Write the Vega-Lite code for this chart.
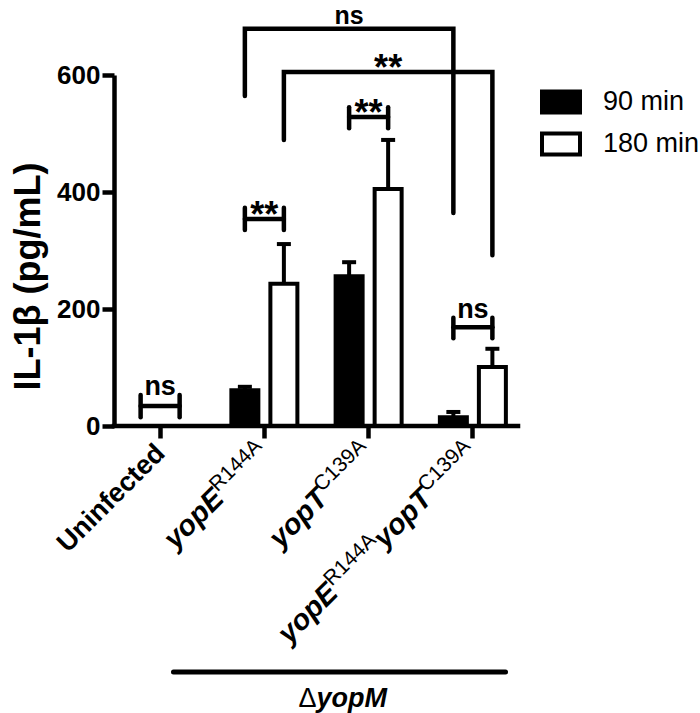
{
  "$schema": "https://vega.github.io/schema/vega-lite/v6.json",
  "autosize": {"type": "none"},
  "width": 417,
  "height": 351,
  "padding": {"left": 108, "top": 75, "right": 175, "bottom": 287},
  "config": {"view": {"stroke": null}, "font": "Liberation Sans"},
  "datasets": {
    "bars": [
      {"strain": "Uninfected", "time": "90 min", "value": 0, "upper": 0},
      {"strain": "Uninfected", "time": "180 min", "value": 0, "upper": 0},
      {"strain": "yopE R144A", "time": "90 min", "value": 61, "upper": 67},
      {"strain": "yopE R144A", "time": "180 min", "value": 243, "upper": 311},
      {"strain": "yopT C139A", "time": "90 min", "value": 256, "upper": 280},
      {"strain": "yopT C139A", "time": "180 min", "value": 405, "upper": 489},
      {"strain": "yopE R144A yopT C139A", "time": "90 min", "value": 15, "upper": 24},
      {"strain": "yopE R144A yopT C139A", "time": "180 min", "value": 101, "upper": 132}
    ],
    "brackets": [
      {"id": "big_ns", "ord": 1, "strain": "yopE R144A", "time": "90 min", "value": 564},
      {"id": "big_ns", "ord": 2, "strain": "yopE R144A", "time": "90 min", "value": 679},
      {"id": "big_ns", "ord": 3, "strain": "yopE R144A yopT C139A", "time": "90 min", "value": 679},
      {"id": "big_ns", "ord": 4, "strain": "yopE R144A yopT C139A", "time": "90 min", "value": 364},
      {"id": "big_ss", "ord": 1, "strain": "yopE R144A", "time": "180 min", "value": 489},
      {"id": "big_ss", "ord": 2, "strain": "yopE R144A", "time": "180 min", "value": 605},
      {"id": "big_ss", "ord": 3, "strain": "yopE R144A yopT C139A", "time": "180 min", "value": 605},
      {"id": "big_ss", "ord": 4, "strain": "yopE R144A yopT C139A", "time": "180 min", "value": 292},
      {"id": "u_h", "ord": 1, "strain": "Uninfected", "time": "90 min", "value": 34},
      {"id": "u_h", "ord": 2, "strain": "Uninfected", "time": "180 min", "value": 34},
      {"id": "u_l", "ord": 1, "strain": "Uninfected", "time": "90 min", "value": 15},
      {"id": "u_l", "ord": 2, "strain": "Uninfected", "time": "90 min", "value": 53},
      {"id": "u_r", "ord": 1, "strain": "Uninfected", "time": "180 min", "value": 15},
      {"id": "u_r", "ord": 2, "strain": "Uninfected", "time": "180 min", "value": 53},
      {"id": "e_h", "ord": 1, "strain": "yopE R144A", "time": "90 min", "value": 354},
      {"id": "e_h", "ord": 2, "strain": "yopE R144A", "time": "180 min", "value": 354},
      {"id": "e_l", "ord": 1, "strain": "yopE R144A", "time": "90 min", "value": 335},
      {"id": "e_l", "ord": 2, "strain": "yopE R144A", "time": "90 min", "value": 373},
      {"id": "e_r", "ord": 1, "strain": "yopE R144A", "time": "180 min", "value": 335},
      {"id": "e_r", "ord": 2, "strain": "yopE R144A", "time": "180 min", "value": 373},
      {"id": "t_h", "ord": 1, "strain": "yopT C139A", "time": "90 min", "value": 528},
      {"id": "t_h", "ord": 2, "strain": "yopT C139A", "time": "180 min", "value": 528},
      {"id": "t_l", "ord": 1, "strain": "yopT C139A", "time": "90 min", "value": 509},
      {"id": "t_l", "ord": 2, "strain": "yopT C139A", "time": "90 min", "value": 545},
      {"id": "t_r", "ord": 1, "strain": "yopT C139A", "time": "180 min", "value": 509},
      {"id": "t_r", "ord": 2, "strain": "yopT C139A", "time": "180 min", "value": 545},
      {"id": "d_h", "ord": 1, "strain": "yopE R144A yopT C139A", "time": "90 min", "value": 169},
      {"id": "d_h", "ord": 2, "strain": "yopE R144A yopT C139A", "time": "180 min", "value": 169},
      {"id": "d_l", "ord": 1, "strain": "yopE R144A yopT C139A", "time": "90 min", "value": 150},
      {"id": "d_l", "ord": 2, "strain": "yopE R144A yopT C139A", "time": "90 min", "value": 185},
      {"id": "d_r", "ord": 1, "strain": "yopE R144A yopT C139A", "time": "180 min", "value": 150},
      {"id": "d_r", "ord": 2, "strain": "yopE R144A yopT C139A", "time": "180 min", "value": 185}
    ],
    "lines": [
      {"what": "x axis", "strain": "Uninfected", "strain2": "yopE R144A yopT C139A", "value": 0},
      {"what": "group", "strain": "yopE R144A", "strain2": "yopE R144A yopT C139A", "value": -420.5}
    ]
  },
  "layer": [
    {
      "data": {"name": "bars"},
      "mark": {"type": "bar", "stroke": "black", "strokeWidth": 4, "strokeJoin": "miter"},
      "encoding": {
        "x": {"field": "strain", "type": "nominal", "sort": null,
          "scale": {"domain": ["Uninfected", "yopE R144A", "yopT C139A", "yopE R144A yopT C139A"], "paddingInner": 0, "paddingOuter": 0},
          "axis": {"title": null, "labels": false, "domain": false, "ticks": true, "tickSize": 12, "tickWidth": 4.5, "tickColor": "black", "grid": false}},
        "xOffset": {"field": "time", "type": "nominal", "sort": null,
          "scale": {"domain": ["90 min", "180 min"], "paddingInner": 0.308, "paddingOuter": 0.49}},
        "y": {"field": "value", "type": "quantitative",
          "scale": {"domain": [0, 600], "nice": false, "zero": false},
          "axis": {"title": "IL-1β (pg/mL)", "values": [0, 200, 400, 600], "offset": -6, "grid": false,
            "domainWidth": 4.5, "domainColor": "black", "tickWidth": 4.5, "tickSize": 12, "tickColor": "black",
            "labelFont": "Liberation Sans", "labelFontSize": 26, "labelFontWeight": "bold", "labelColor": "black", "labelPadding": 2,
            "titleFont": "Liberation Sans", "titleFontSize": 36, "titleFontWeight": "bold", "titleColor": "black", "titlePadding": 9, "titleY": 201}},
        "fill": {"field": "time", "type": "nominal", "sort": null,
          "scale": {"domain": ["90 min", "180 min"], "range": ["black", "white"]},
          "legend": {"title": null, "orient": "none", "legendX": 432, "legendY": 6,
            "symbolType": "M-1,-0.55H1V0.55H-1Z", "symbolSize": 1444, "symbolStrokeColor": "black", "symbolStrokeWidth": 4,
            "labelFont": "Liberation Sans", "labelFontSize": 27, "labelColor": "black", "labelOffset": 21, "rowPadding": 2}}
      }
    },
    {
      "data": {"name": "bars"},
      "transform": [{"filter": "datum.upper > datum.value"}],
      "mark": {"type": "rule", "color": "black", "strokeWidth": 4},
      "encoding": {
        "x": {"field": "strain", "type": "nominal", "sort": null},
        "xOffset": {"field": "time", "type": "nominal", "sort": null},
        "y": {"field": "value", "type": "quantitative"},
        "y2": {"field": "upper"}
      }
    },
    {
      "data": {"name": "bars"},
      "transform": [{"filter": "datum.upper > datum.value"}],
      "mark": {"type": "tick", "color": "black", "size": 14, "thickness": 4, "opacity": 1},
      "encoding": {
        "x": {"field": "strain", "type": "nominal", "sort": null},
        "xOffset": {"field": "time", "type": "nominal", "sort": null},
        "y": {"field": "upper", "type": "quantitative"}
      }
    },
    {
      "data": {"name": "brackets"},
      "mark": {"type": "line", "color": "black", "strokeWidth": 4.5, "strokeCap": "round", "strokeJoin": "miter"},
      "encoding": {
        "x": {"field": "strain", "type": "nominal", "sort": null},
        "xOffset": {"field": "time", "type": "nominal", "sort": null},
        "y": {"field": "value", "type": "quantitative"},
        "detail": {"field": "id"},
        "order": {"field": "ord"}
      }
    },
    {
      "data": {"values": [
        {"strain": "Uninfected", "value": 53, "label": "ns"},
        {"strain": "yopE R144A yopT C139A", "value": 185, "label": "ns"}
      ]},
      "mark": {"type": "text", "font": "Liberation Sans", "fontWeight": "bold", "fontSize": 27, "color": "black", "align": "center", "baseline": "alphabetic"},
      "encoding": {
        "x": {"field": "strain", "type": "nominal", "sort": null},
        "y": {"field": "value", "type": "quantitative"},
        "text": {"field": "label"}
      }
    },
    {
      "data": {"values": [
        {"strain": "yopE R144A", "value": 341, "label": "**"},
        {"strain": "yopT C139A", "value": 515, "label": "**"}
      ]},
      "mark": {"type": "text", "font": "Liberation Sans", "fontWeight": "bold", "fontSize": 36, "color": "black", "align": "center", "baseline": "alphabetic"},
      "encoding": {
        "x": {"field": "strain", "type": "nominal", "sort": null},
        "y": {"field": "value", "type": "quantitative"},
        "text": {"field": "label"}
      }
    },
    {
      "data": {"values": [
        {"strain": "yopT C139A", "time": "90 min", "value": 687, "label": "ns"}
      ]},
      "mark": {"type": "text", "font": "Liberation Sans", "fontWeight": "bold", "fontSize": 25, "color": "black", "align": "center", "baseline": "alphabetic"},
      "encoding": {
        "x": {"field": "strain", "type": "nominal", "sort": null},
        "xOffset": {"field": "time", "type": "nominal", "sort": null},
        "y": {"field": "value", "type": "quantitative"},
        "text": {"field": "label"}
      }
    },
    {
      "data": {"values": [
        {"strain": "yopT C139A", "time": "180 min", "value": 592, "label": "**"}
      ]},
      "mark": {"type": "text", "font": "Liberation Sans", "fontWeight": "bold", "fontSize": 36, "color": "black", "align": "center", "baseline": "alphabetic"},
      "encoding": {
        "x": {"field": "strain", "type": "nominal", "sort": null},
        "xOffset": {"field": "time", "type": "nominal", "sort": null},
        "y": {"field": "value", "type": "quantitative"},
        "text": {"field": "label"}
      }
    },
    {
      "data": {"values": [{"strain": "Uninfected", "part": "Uninfected", "value": -38.3}]},
      "mark": {"type": "text", "font": "Liberation Sans", "fontWeight": "bold", "fontSize": 27, "color": "black", "align": "right", "baseline": "alphabetic", "angle": 315, "dy": 9},
      "encoding": {
        "x": {"field": "strain", "type": "nominal", "sort": null},
        "y": {"field": "value", "type": "quantitative"},
        "text": {"field": "part"}
      }
    },
    {
      "data": {"values": [
        {"strain": "yopE R144A", "part": "R144A", "value": -38.3},
        {"strain": "yopT C139A", "part": "C139A", "value": -38.3},
        {"strain": "yopE R144A yopT C139A", "part": "C139A", "value": -38.3}
      ]},
      "mark": {"type": "text", "font": "Liberation Sans", "fontWeight": "normal", "fontSize": 21, "color": "black", "align": "right", "baseline": "alphabetic", "angle": 315, "dy": -2},
      "encoding": {
        "x": {"field": "strain", "type": "nominal", "sort": null},
        "y": {"field": "value", "type": "quantitative"},
        "text": {"field": "part"}
      }
    },
    {
      "data": {"values": [
        {"strain": "yopE R144A", "part": "yopE", "value": -38.3},
        {"strain": "yopT C139A", "part": "yopT", "value": -38.3},
        {"strain": "yopE R144A yopT C139A", "part": "yopT", "value": -38.3}
      ]},
      "mark": {"type": "text", "font": "Liberation Sans", "fontWeight": "bold", "fontStyle": "italic", "fontSize": 29, "color": "black", "align": "right", "baseline": "alphabetic", "angle": 315, "dy": 9, "dx": -64.2},
      "encoding": {
        "x": {"field": "strain", "type": "nominal", "sort": null},
        "y": {"field": "value", "type": "quantitative"},
        "text": {"field": "part"}
      }
    },
    {
      "data": {"values": [{"strain": "yopE R144A yopT C139A", "part": "R144A", "value": -38.3}]},
      "mark": {"type": "text", "font": "Liberation Sans", "fontWeight": "normal", "fontSize": 21, "color": "black", "align": "right", "baseline": "alphabetic", "angle": 315, "dy": -2, "dx": -133.5},
      "encoding": {
        "x": {"field": "strain", "type": "nominal", "sort": null},
        "y": {"field": "value", "type": "quantitative"},
        "text": {"field": "part"}
      }
    },
    {
      "data": {"values": [{"strain": "yopE R144A yopT C139A", "part": "yopE", "value": -38.3}]},
      "mark": {"type": "text", "font": "Liberation Sans", "fontWeight": "bold", "fontStyle": "italic", "fontSize": 29, "color": "black", "align": "right", "baseline": "alphabetic", "angle": 315, "dy": 9, "dx": -197.7},
      "encoding": {
        "x": {"field": "strain", "type": "nominal", "sort": null},
        "y": {"field": "value", "type": "quantitative"},
        "text": {"field": "part"}
      }
    },
    {
      "data": {"name": "lines"},
      "transform": [{"filter": "datum.what === 'x axis'"}],
      "mark": {"type": "rule", "color": "black", "strokeWidth": 4.5, "strokeCap": "square"},
      "encoding": {
        "x": {"field": "strain", "type": "nominal", "sort": null, "bandPosition": 0.0576},
        "x2": {"field": "strain2", "bandPosition": 0.933},
        "y": {"field": "value", "type": "quantitative"}
      }
    },
    {
      "data": {"name": "lines"},
      "transform": [{"filter": "datum.what === 'group'"}],
      "mark": {"type": "rule", "color": "black", "strokeWidth": 5, "strokeCap": "round"},
      "encoding": {
        "x": {"field": "strain", "type": "nominal", "sort": null, "bandPosition": -0.372},
        "x2": {"field": "strain2", "bandPosition": 0.813},
        "y": {"field": "value", "type": "quantitative"}
      }
    },
    {
      "data": {"values": [{"strain": "yopT C139A", "part": "Δ", "value": -480.3}]},
      "mark": {"type": "text", "font": "Liberation Sans", "fontSize": 27, "color": "black", "align": "right", "baseline": "alphabetic"},
      "encoding": {
        "x": {"field": "strain", "type": "nominal", "sort": null, "bandPosition": 0},
        "y": {"field": "value", "type": "quantitative"},
        "text": {"field": "part"}
      }
    },
    {
      "data": {"values": [{"strain": "yopT C139A", "part": "yopM", "value": -480.3}]},
      "mark": {"type": "text", "font": "Liberation Sans", "fontWeight": "bold", "fontStyle": "italic", "fontSize": 27, "color": "black", "align": "left", "baseline": "alphabetic"},
      "encoding": {
        "x": {"field": "strain", "type": "nominal", "sort": null, "bandPosition": 0},
        "y": {"field": "value", "type": "quantitative"},
        "text": {"field": "part"}
      }
    }
  ]
}
